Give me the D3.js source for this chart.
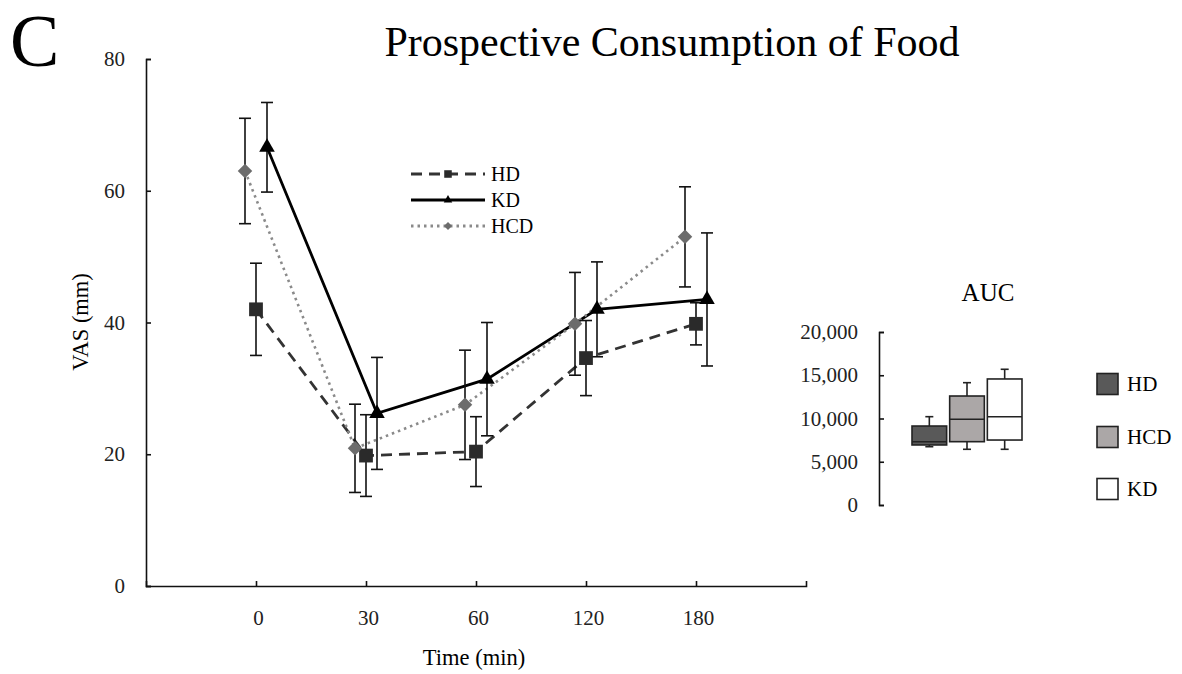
<!DOCTYPE html>
<html>
<head>
<meta charset="utf-8">
<script src="https://cdn.jsdelivr.net/npm/d3@7"></script>
<style>
  body { margin: 0; background: #fff; }
  svg { display: block; font-family: "Liberation Serif", "Times New Roman", serif; }
  .tick text { font-family: "Liberation Serif", "Times New Roman", serif; font-size: 21px; fill: #222; }
  .domain, .tick line { stroke: #111; stroke-width: 1.6; }
</style>
</head>
<body>
<div id="wrapper"></div>
<script>
// 1. Data

const times = ["0", "30", "60", "120", "180"]

const hdMean = [42.0, 19.8, 20.4, 34.6, 39.8]
const hdErr  = [7.0, 6.2, 5.3, 5.7, 3.2]
const kdMean = [66.6, 26.2, 31.4, 42.0, 43.5]
const kdErr  = [6.8, 8.5, 8.6, 7.2, 10.1]
const hcdMean = [63.0, 20.9, 27.5, 39.8, 53.0]
const hcdErr  = [8.0, 6.7, 8.3, 7.8, 7.6]

const yTicks = [0, 20, 40, 60, 80]

const aucGroups = ["HD", "HCD", "KD"]
const aucMin    = [6740, 6440, 6440]
const aucQ1     = [6940, 7320, 7510]
const aucMedian = [7320, 9910, 10210]
const aucQ3     = [9130, 12600, 14570]
const aucMax    = [10210, 14140, 15690]
const aucTicks  = [0, 5000, 10000, 15000, 20000]

// 2. Dimensions

const dimensions = {
  width: 1182,
  height: 674,
  main: { left: 146, right: 806, top: 59, bottom: 586 },
  inset: { axisX: 879, left: 912, right: 1022, top: 332, bottom: 505 },
}

const svg = d3.select("#wrapper")
  .append("svg")
    .attr("width", dimensions.width)
    .attr("height", dimensions.height)

// 3. Scales

const xScale = d3.scalePoint()
  .domain(times)
  .range([dimensions.main.left, dimensions.main.right])
  .padding(1)

const yScale = d3.scaleLinear()
  .domain([0, 80])
  .range([dimensions.main.bottom, dimensions.main.top])

const series = [
  { name: "HD",  mean: hdMean,  err: hdErr,  dodge: 0,
    color: "#333", fill: "#2a2a2a", dash: "11,7", symbol: "square" },
  { name: "KD",  mean: kdMean,  err: kdErr,  dodge: 0.1,
    color: "#000", fill: "#000", dash: null, symbol: "triangle" },
  { name: "HCD", mean: hcdMean, err: hcdErr, dodge: -0.1,
    color: "#8a8a8a", fill: "#6c6c6c", dash: "2.5,4", symbol: "diamond" },
]

const xPos = (s, i) => xScale(times[i]) + s.dodge * xScale.step()

function symbolPath(kind, scale) {
  if (kind === "square") return d3.symbol(d3.symbolSquare, 190 * scale)()
  if (kind === "triangle") return d3.symbol(d3.symbolTriangle, 105 * scale)()
  return d3.symbol(d3.symbolSquare, 105 * scale)()
}

// 4. Axes

const xAxis = svg.append("g")
    .attr("transform", `translate(0, ${dimensions.main.bottom})`)
    .call(d3.axisBottom(xScale).tickSize(-5).tickSizeOuter(-5).tickPadding(24))
xAxis.selectAll(".tick text").attr("dx", "0.1em")

svg.append("g")
    .attr("transform", `translate(${dimensions.main.left}, 0)`)
    .call(d3.axisLeft(yScale).tickValues(yTicks).tickSize(-5).tickSizeOuter(-5).tickPadding(21))

svg.append("text")
    .attr("x", (dimensions.main.left + dimensions.main.right) / 2 - 2)
    .attr("y", 665)
    .attr("text-anchor", "middle")
    .style("font-size", "22.5px")
    .text("Time (min)")

svg.append("text")
    .attr("transform", `translate(88, 322) rotate(-90)`)
    .attr("text-anchor", "middle")
    .style("font-size", "22.5px")
    .text("VAS (mm)")

// 5. Lines, error bars, markers

const line = s => d3.line()
  .x((d, i) => xPos(s, i))
  .y(d => yScale(d))(s.mean)

series.forEach(s => {
  svg.append("path")
      .attr("d", line(s))
      .attr("fill", "none")
      .attr("stroke", s.color)
      .attr("stroke-width", s.name === "HCD" ? 2.6 : 2.8)
      .attr("stroke-dasharray", s.dash)
})

series.forEach(s => {
  const g = svg.append("g").attr("class", "errbars-" + s.name)
  s.mean.forEach((m, i) => {
    const x = xPos(s, i)
    const y0 = yScale(m - s.err[i])
    const y1 = yScale(m + s.err[i])
    g.append("line")
        .attr("x1", x).attr("x2", x).attr("y1", y0).attr("y2", y1)
        .attr("stroke", "#111").attr("stroke-width", 1.6)
    ;[y0, y1].forEach(yy => g.append("line")
        .attr("x1", x - 6).attr("x2", x + 6).attr("y1", yy).attr("y2", yy)
        .attr("stroke", "#111").attr("stroke-width", 1.6))
  })
})

series.forEach(s => {
  svg.append("g").selectAll("path")
    .data(s.mean)
    .join("path")
      .attr("d", symbolPath(s.symbol, 1))
      .attr("transform", (d, i) => `translate(${xPos(s, i)}, ${yScale(d)})` +
        (s.symbol === "diamond" ? " rotate(45)" : ""))
      .attr("fill", s.fill)
})

// 6. Line legend

const legend = svg.append("g").attr("transform", "translate(411, 0)")
const legendY = [174, 200, 226]
series.forEach((s, i) => {
  const y = legendY[i]
  legend.append("line")
      .attr("x1", 0).attr("x2", 74).attr("y1", y).attr("y2", y)
      .attr("stroke", s.color)
      .attr("stroke-width", 2.8)
      .attr("stroke-dasharray", s.dash)
  legend.append("path")
      .attr("d", symbolPath(s.symbol, 0.3))
      .attr("transform", `translate(37, ${y})` + (s.symbol === "diamond" ? " rotate(45)" : ""))
      .attr("fill", s.fill)
  legend.append("text")
      .attr("x", 80).attr("y", y).attr("dy", "0.35em")
      .style("font-size", "20px")
      .text(s.name)
})

// 7. Title and panel letter

svg.append("text")
    .attr("x", 672).attr("y", 56)
    .attr("text-anchor", "middle")
    .style("font-size", "42px")
    .text("Prospective Consumption of Food")

svg.append("text")
    .attr("x", 10).attr("y", 66)
    .style("font-size", "74px")
    .text("C")

// 8. AUC inset

const aucY = d3.scaleLinear()
  .domain([0, 20000])
  .range([dimensions.inset.bottom, dimensions.inset.top])

const aucX = d3.scaleBand()
  .domain(aucGroups)
  .range([dimensions.inset.left, dimensions.inset.right])
  .paddingInner(0.08)

svg.append("g")
    .attr("transform", `translate(${dimensions.inset.axisX}, 0)`)
    .call(d3.axisLeft(aucY).tickValues(aucTicks).tickFormat(d3.format(","))
      .tickSize(-5).tickSizeOuter(-5).tickPadding(21))

svg.append("text")
    .attr("x", 988).attr("y", 301)
    .attr("text-anchor", "middle")
    .style("font-size", "25px")
    .text("AUC")

const aucFill = ["#595959", "#aba7a7", "#ffffff"]

const boxes = svg.append("g").selectAll("g")
  .data(aucGroups)
  .join("g")

boxes.each(function(name, i) {
  const g = d3.select(this)
  const x = aucX(name)
  const w = aucX.bandwidth()
  const cx = x + w / 2
  ;[[aucMax[i], aucQ3[i]], [aucMin[i], aucQ1[i]]].forEach(([a, b]) => {
    g.append("line")
        .attr("x1", cx).attr("x2", cx).attr("y1", aucY(a)).attr("y2", aucY(b))
        .attr("stroke", "#222").attr("stroke-width", 1.6)
    g.append("line")
        .attr("x1", cx - 4).attr("x2", cx + 4).attr("y1", aucY(a)).attr("y2", aucY(a))
        .attr("stroke", "#222").attr("stroke-width", 1.6)
  })
  g.append("rect")
      .attr("x", x).attr("width", w)
      .attr("y", aucY(aucQ3[i]))
      .attr("height", aucY(aucQ1[i]) - aucY(aucQ3[i]))
      .attr("fill", aucFill[i])
      .attr("stroke", "#222").attr("stroke-width", 1.6)
  g.append("line")
      .attr("x1", x).attr("x2", x + w)
      .attr("y1", aucY(aucMedian[i])).attr("y2", aucY(aucMedian[i]))
      .attr("stroke", "#222").attr("stroke-width", 1.6)
})

const aucLegendY = [384, 437, 489]
aucGroups.forEach((name, i) => {
  svg.append("rect")
      .attr("x", 1097).attr("y", aucLegendY[i] - 10.5)
      .attr("width", 21).attr("height", 21)
      .attr("fill", aucFill[i])
      .attr("stroke", "#222").attr("stroke-width", 1.6)
  svg.append("text")
      .attr("x", 1127).attr("y", aucLegendY[i]).attr("dy", "0.35em")
      .style("font-size", "21px")
      .text(name)
})
</script>
</body>
</html>
